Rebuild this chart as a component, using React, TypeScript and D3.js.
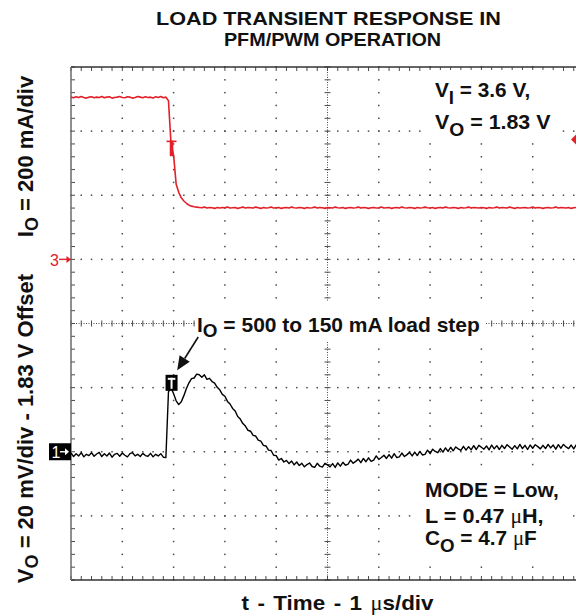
import React from 'react';
import * as d3 from 'd3';

// Scope capture, one sample every 50 ns from the left edge of the screen
const SAMPLE_STEP_US = 0.05;

// CH1: output voltage in mV, relative to the 1.83 V offset
const VOUT_MV = [
  -0.4, -1.5, -0.6, -1.3, -0.3, -1.6, -0.8, -1.2, -0.3, -1.4,
  -0.7, -0.2, -1.5, -0.6, -1.3, -0.4, -1.7, -0.8, -0.5, -1.4,
  -0.4, -1.1, -1.6, -0.6, -0.3, -1.3, -0.8, -1.5, -0.5, -1.2,
  -1.4, -0.5, -1.6, -0.8, -1.3, -0.6, -1.7, -1.8,
  18.7, 20.0, 18.1, 15.9, 14.7, 15.6, 17.5, 19.7, 21.5, 22.8,
  23.0, 24.2, 24.0, 23.2, 24.0, 22.6, 22.9, 21.9, 21.4, 20.1,
  19.3, 17.9, 17.3, 15.7, 14.9, 13.5, 12.7, 11.0, 10.2, 8.8,
  8.0, 6.7, 6.4, 5.1, 4.9, 3.6, 3.3, 2.0, 1.8, 0.5,
  0.4, -1.1, -1.2, -2.6, -2.1, -3.2, -2.7, -3.7, -2.9, -4.1,
  -3.2, -4.3, -3.6, -4.7, -4.0, -3.5, -4.6, -4.9, -3.6, -4.5,
  -4.8, -3.6, -4.1, -4.7, -3.7, -4.9, -3.5, -4.5, -3.3, -4.2,
  -3.9, -2.6, -3.6, -3.0, -2.3, -3.4, -2.1, -3.1, -1.9, -3.0,
  -2.6, -1.3, -2.4, -1.8, -1.1, -2.1, -0.9, -2.0, -0.6, -1.8,
  -1.6, -0.4, -1.5, -0.9, -0.2, -1.3, -0.1, -1.2, 0.1, -1.0,
  -0.8, 0.5, -0.6, 0.8, 0.1, -0.3, 1.0, -0.1, 1.2, 0.1,
  1.4, 0.3, 1.5, 0.9, 0.4, 1.7, 0.5, 1.6, 0.6, 1.9,
  0.7, 2.0, 1.4, 0.8, 1.8, 0.6, 2.1, 0.9, 1.9, 0.7,
  2.0, 1.0, 2.2, 1.5, 0.8, 1.9, 0.9, 2.3, 1.0, 2.0,
  0.7, 2.1, 1.1, 2.2, 1.6, 0.9, 2.0, 1.0, 2.3, 1.2,
  2.1, 0.8, 2.2, 1.1, 2.3, 1.5, 1.0, 2.1, 0.9, 2.2,
];

// CH3: output current in mA
const IOUT_MA = [
  506, 504, 507, 505, 508, 505, 503, 506, 507, 504,
  506, 505, 508, 504, 506, 507, 503, 505, 506, 508,
  505, 504, 507, 506, 503, 505, 508, 506, 504, 507,
  505, 506, 503, 507, 505, 508, 504, 506,
  495, 360, 325, 234, 209, 192, 182, 175, 169, 166,
  164, 163, 162, 161, 163, 160, 162, 161, 159, 162,
  160, 162, 161, 163, 160, 161, 162, 159, 161, 163,
  160, 162, 161, 160, 163, 161, 159, 162, 160, 161,
  163, 160, 161, 162, 159, 161, 162, 160, 163, 161,
  160, 162, 161, 159, 162, 160, 161, 163, 160, 162,
  161, 159, 162, 161, 160, 163, 161, 160, 162, 159,
  161, 162, 160, 161, 163, 160, 162, 161, 159, 161,
  162, 160, 161, 163, 160, 161, 162, 159, 161, 162,
  160, 163, 161, 160, 162, 161, 159, 162, 160, 161,
  163, 161, 160, 162, 159, 161, 162, 160, 163, 161,
  160, 162, 161, 159, 162, 160, 161, 163, 160, 162,
  161, 160, 162, 161, 159, 162, 160, 161, 163, 160,
  162, 161, 160, 163, 161, 159, 162, 160, 161, 162,
  160, 161, 163, 160, 162, 161, 159, 161, 162, 160,
  161, 163, 160, 162, 161, 160, 162, 159, 161, 162,
];

// Scope settings
const TIME_DIVS = 10;   // 1 us/div
const VERT_DIVS = 8;
const MINOR = 5;        // minor ticks per division
const MV_PER_DIV = 20;
const MA_PER_DIV = 200;
const CH1_REF_DIV = 6;  // ground marker position, divisions from top
const CH3_REF_DIV = 3;
const TRIGGER_US = 1.96;
const CH1_TRIG_MV = 21.5;
const CH3_TRIG_MA = 368;

// Colors
const COLOR_CH1 = "#000000";
const COLOR_CH3 = "#e3202a";
const COLOR_GRID = "#4a4a4a";
const FONT = "'Liberation Sans', Arial, Helvetica, sans-serif";
const SERIF = "'Liberation Serif', 'Times New Roman', serif";

const WIDTH = 576;
const HEIGHT = 615;
const PLOT_LEFT = 71;
const PLOT_TOP = 67;
const DIV_W = 51.3;
const DIV_H = 64.125;

function Label({ x, y, sx = 1, size = 20, anchor = 'start', wordSpacing = 0, children }: any) {
  return (
    <g transform={`translate(${x},${y}) scale(${sx},1)`}>
      <text fontSize={size} fontWeight="bold" textAnchor={anchor} fill="#111"
        style={{ wordSpacing: `${wordSpacing}px` }}>
        {children}
      </text>
    </g>
  );
}

const Mu = () => <tspan fontFamily={SERIF} fontWeight="normal">μ</tspan>;

export default function App() {
  const plotRight = PLOT_LEFT + TIME_DIVS * DIV_W;
  const plotBottom = PLOT_TOP + VERT_DIVS * DIV_H;

  const x = d3.scaleLinear().domain([0, TIME_DIVS]).range([PLOT_LEFT, plotRight]);
  const yDiv = d3.scaleLinear().domain([0, VERT_DIVS]).range([PLOT_TOP, plotBottom]);
  const yV = d3.scaleLinear()
    .domain([-(VERT_DIVS - CH1_REF_DIV) * MV_PER_DIV, CH1_REF_DIV * MV_PER_DIV])
    .range([plotBottom, PLOT_TOP]);
  const yI = d3.scaleLinear()
    .domain([-(VERT_DIVS - CH3_REF_DIV) * MA_PER_DIV, CH3_REF_DIV * MA_PER_DIV])
    .range([plotBottom, PLOT_TOP]);

  const minorX = d3.range(0, TIME_DIVS * MINOR + 1).map(i => x(i / MINOR));
  const minorY = d3.range(0, VERT_DIVS * MINOR + 1).map(i => yDiv(i / MINOR));
  const majorX = d3.range(1, TIME_DIVS).filter(i => i !== TIME_DIVS / 2).map(i => x(i));
  const majorY = d3.range(1, VERT_DIVS).filter(i => i !== VERT_DIVS / 2).map(i => yDiv(i));
  const cx = x(TIME_DIVS / 2);
  const cy = yDiv(VERT_DIVS / 2);

  const vLine = d3.line<number>()
    .x((_, i) => x(i * SAMPLE_STEP_US))
    .y(d => yV(d));
  const iLine = d3.line<number>()
    .x((_, i) => x(i * SAMPLE_STEP_US))
    .y(d => yI(d));

  const tx = x(TRIGGER_US);
  const t1y = yV(CH1_TRIG_MV);
  const t3y = yI(CH3_TRIG_MA);
  const ref1 = yV(0);
  const ref3 = yI(0);

  // annotation arrow pointing at the trigger marker
  const tail: [number, number] = [x(2.48), yV(35.8)];
  const tip: [number, number] = [x(2.07), yV(25.4)];
  const ang = Math.atan2(tip[1] - tail[1], tip[0] - tail[0]);
  const headLen = 14, headW = 6;
  const base: [number, number] = [tip[0] - headLen * Math.cos(ang), tip[1] - headLen * Math.sin(ang)];
  const head = [
    tip,
    [base[0] + headW * Math.sin(ang), base[1] - headW * Math.cos(ang)],
    [base[0] - headW * Math.sin(ang), base[1] + headW * Math.cos(ang)],
  ];

  return (
    <svg width={WIDTH} height={HEIGHT} fontFamily={FONT}
      style={{ position: 'absolute', left: 0, top: 0, background: '#fff' }}>
      <defs>
        <clipPath id="plot">
          <rect x={PLOT_LEFT} y={PLOT_TOP} width={plotRight - PLOT_LEFT} height={plotBottom - PLOT_TOP} />
        </clipPath>
      </defs>

      {/* title */}
      <Label x={328.5} y={25} size={18.5} sx={1.17} anchor="middle">LOAD TRANSIENT RESPONSE IN</Label>
      <Label x={332.5} y={45.5} size={18.5} sx={1.07} anchor="middle">PFM/PWM OPERATION</Label>

      {/* graticule */}
      <g fill={COLOR_GRID}>
        {majorX.flatMap((gx, i) => minorY.map((gy, j) => (
          <rect key={`vx${i}-${j}`} x={gx - 0.75} y={gy - 0.75} width={1.5} height={1.5} />
        )))}
        {majorY.flatMap((gy, i) => minorX.map((gx, j) => (
          <rect key={`hy${i}-${j}`} x={gx - 0.75} y={gy - 0.75} width={1.5} height={1.5} />
        )))}
      </g>
      <g stroke={COLOR_GRID} strokeWidth={1}>
        <line x1={cx} x2={cx} y1={PLOT_TOP} y2={plotBottom} strokeDasharray="1 1.5" />
        <line x1={PLOT_LEFT} x2={plotRight} y1={cy} y2={cy} strokeDasharray="1 1.5" />
        {minorY.map((gy, i) => (
          <line key={`cyt${i}`} x1={cx - 3} x2={cx + 3} y1={gy} y2={gy} />
        ))}
        {minorX.map((gx, i) => (
          <line key={`cxt${i}`} x1={gx} x2={gx} y1={cy - 3} y2={cy + 3} />
        ))}
        {minorX.map((gx, i) => (
          <g key={`tb${i}`}>
            <line x1={gx} x2={gx} y1={PLOT_TOP} y2={PLOT_TOP + 4} />
            <line x1={gx} x2={gx} y1={plotBottom - 4} y2={plotBottom} />
          </g>
        ))}
        {minorY.map((gy, i) => (
          <line key={`lt${i}`} x1={PLOT_LEFT} x2={PLOT_LEFT + 4} y1={gy} y2={gy} />
        ))}
      </g>
      <g strokeWidth={1.5}>
        <line x1={PLOT_LEFT} x2={plotRight} y1={PLOT_TOP} y2={PLOT_TOP} stroke="#333" />
        <line x1={PLOT_LEFT} x2={plotRight} y1={plotBottom} y2={plotBottom} stroke="#333" />
        <line x1={PLOT_LEFT} x2={PLOT_LEFT} y1={PLOT_TOP} y2={plotBottom} stroke="#6a6a6a" />
      </g>

      {/* label backgrounds */}
      <g fill="#fff">
        <rect x={425} y={70} width={135} height={68} />
        <rect x={195} y={302} width={291} height={40} />
        <rect x={418} y={470} width={150} height={92} />
      </g>

      {/* traces */}
      <g clipPath="url(#plot)" fill="none" strokeLinejoin="round">
        <path d={iLine(IOUT_MA) ?? ''} stroke={COLOR_CH3} strokeWidth={1.6} />
        <path d={vLine(VOUT_MV) ?? ''} stroke={COLOR_CH1} strokeWidth={1.4} />
      </g>

      {/* trigger markers */}
      <g stroke={COLOR_CH3} strokeWidth={1.6}>
        <line x1={tx - 5} x2={tx + 5} y1={t3y} y2={t3y} />
        <rect x={tx - 1} y={t3y} width={2} height={14} fill={COLOR_CH3} />
      </g>
      <polygon fill={COLOR_CH3}
        points={`${WIDTH - 5},${t3y - 2} ${WIDTH},${t3y - 7} ${WIDTH + 5},${t3y - 2} ${WIDTH},${t3y + 3}`} />
      <g>
        <rect x={tx - 6} y={t1y - 8} width={12} height={16} fill="#000" />
        <rect x={tx - 3.8} y={t1y - 5} width={7.6} height={2} fill="#fff" />
        <rect x={tx - 1} y={t1y - 5} width={2} height={11} fill="#fff" />
      </g>

      {/* channel ground markers */}
      <g>
        <rect x={49} y={ref1 - 8.5} width={22} height={17} fill="#000" />
        <text x={51.5} y={ref1 + 6} fill="#fff" fontSize={16}>1</text>
        <line x1={60} x2={67} y1={ref1} y2={ref1} stroke="#fff" strokeWidth={1.4} />
        <path d={`M69,${ref1} l-4,-3.5 v7 z`} fill="#fff" />
      </g>
      <g fill={COLOR_CH3}>
        <text x={50} y={ref3 + 6.5} fontSize={16}>3</text>
        <line x1={59} x2={68} y1={ref3} y2={ref3} stroke={COLOR_CH3} strokeWidth={1.4} />
        <path d={`M71,${ref3} l-4.5,-3.5 v7 z`} />
      </g>

      {/* annotation arrow */}
      <line x1={tail[0]} y1={tail[1]} x2={base[0]} y2={base[1]} stroke="#111" strokeWidth={1.6} />
      <polygon points={head.map(p => p.join(',')).join(' ')} fill="#111" />

      {/* annotations */}
      <Label x={435} y={97} sx={1.04}>
        V<tspan fontSize={18} dy={7}>I</tspan><tspan dy={-7}> = 3.6 V,</tspan>
      </Label>
      <Label x={435} y={128.5} sx={1.07}>
        V<tspan fontSize={18} dy={7}>O</tspan><tspan dy={-7}> = 1.83 V</tspan>
      </Label>
      <Label x={197} y={331.5} sx={1.05}>
        I<tspan fontSize={18} dy={5}>O</tspan><tspan dy={-5}> = 500 to 150 mA load step</tspan>
      </Label>
      <Label x={425} y={497} sx={1.05}>MODE = Low,</Label>
      <Label x={425} y={522.5} sx={1.08}>L = 0.47 <Mu />H,</Label>
      <Label x={425} y={545} sx={1.04}>
        C<tspan fontSize={18} dy={7}>O</tspan><tspan dy={-7}> = 4.7 </tspan><Mu />F
      </Label>

      {/* axis labels */}
      <Label x={337.5} y={610} sx={1.12} anchor="middle" wordSpacing={2}>
        t - Time - 1 <Mu />s/div
      </Label>
      <g transform="translate(33,156.5) rotate(-90)">
        <text fontSize={22} fontWeight="bold" textAnchor="middle" fill="#111">
          I<tspan fontSize={18} dy={5}>O</tspan><tspan dy={-5}> = 200 mA/div</tspan>
        </text>
      </g>
      <g transform="translate(33,428.5) rotate(-90)">
        <text fontSize={22} fontWeight="bold" textAnchor="middle" fill="#111">
          V<tspan fontSize={18} dy={5}>O</tspan><tspan dy={-5}> = 20 mV/div - 1.83 V Offset</tspan>
        </text>
      </g>
    </svg>
  );
}
